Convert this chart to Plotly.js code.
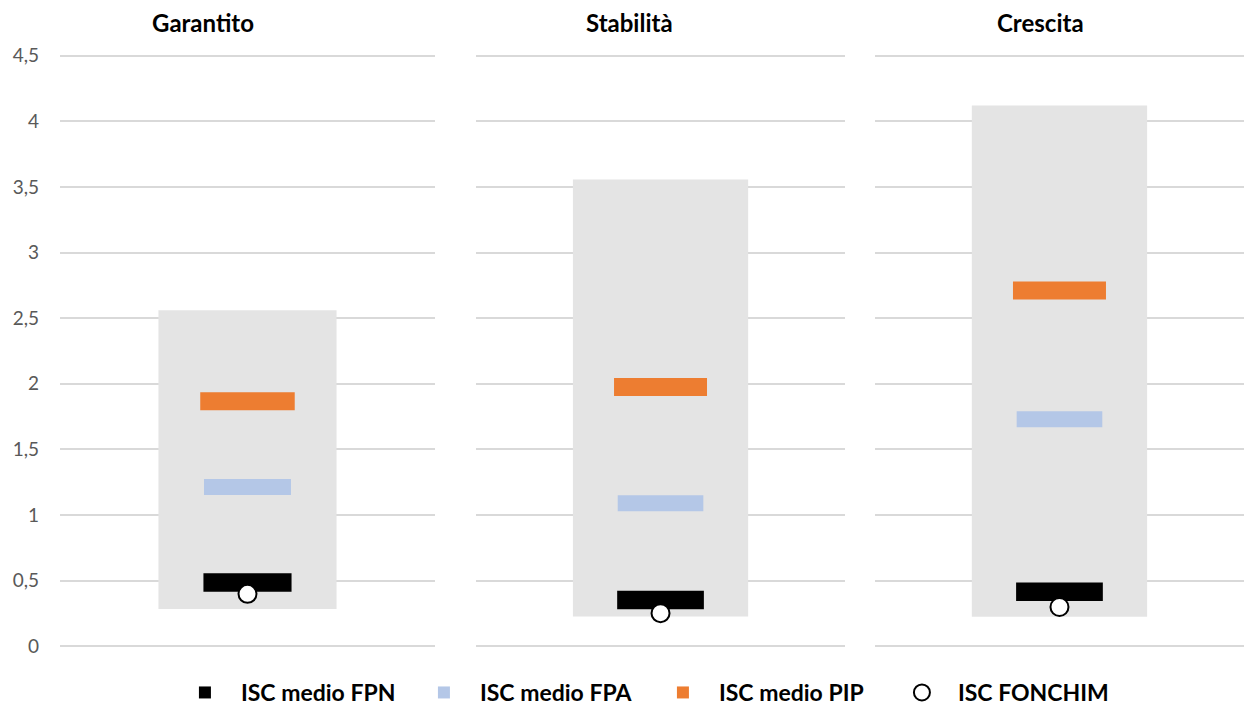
<!DOCTYPE html>
<html>
<head>
<meta charset="utf-8">
<script src="https://cdn.plot.ly/plotly-3.0.1.min.js"></script>
<style>html,body{margin:0;padding:0;background:#fff;}#chart{width:1244px;height:705px;}</style>
</head>
<body>
<div id="chart"></div>
<script>
// ---- data ----
const categories = ['Garantito', 'Stabilità', 'Crescita'];
const rangeMin = [0.285, 0.228, 0.225];
const rangeMax = [2.56, 3.556, 4.12];
const iscFPN = [0.487, 0.353, 0.416];
const iscFPA = [1.214, 1.09, 1.73];
const iscPIP = [1.867, 1.975, 2.71];
const iscFONCHIM = [0.40, 0.253, 0.30];
const seriesNames = ['ISC medio FPN', 'ISC medio FPA', 'ISC medio PIP', 'ISC FONCHIM'];
const yTicks = [0, 0.5, 1, 1.5, 2, 2.5, 3, 3.5, 4, 4.5];

// ---- styling ----
const FONT = 'Lato, "Liberation Sans", sans-serif';
const colors = {range: '#e4e4e4', fpn: '#000000', fpa: '#b4c7e7', pip: '#ed7d31'};
const domains = [[0, 0.3167], [0.3514, 0.6630], [0.6883, 1]];
const titleX = [0.1208, 0.4814, 0.8285];
const thick = {fpn: 0.14, fpa: 0.122, pip: 0.137};

const axSuffix = i => (i === 0 ? '' : String(i + 1));
const traces = [];

categories.forEach((cat, i) => {
  const xa = 'x' + axSuffix(i), ya = 'y' + axSuffix(i);
  traces.push({
    type: 'bar', x: [cat], y: [rangeMax[i] - rangeMin[i]], base: [rangeMin[i]],
    width: 0.475, marker: {color: colors.range}, xaxis: xa, yaxis: ya,
    showlegend: false, hoverinfo: 'skip'
  });
});

function barSeries(vals, key, name, w) {
  categories.forEach((cat, i) => {
    traces.push({
      type: 'bar', x: [cat], y: [thick[key]], base: [vals[i] - thick[key] / 2],
      width: w, marker: {color: colors[key]}, name: name, legendgroup: key,
      showlegend: i === 0, xaxis: 'x' + axSuffix(i), yaxis: 'y' + axSuffix(i),
      hovertext: [String(vals[i])], hoverinfo: 'name+text'
    });
  });
}
barSeries(iscFPN, 'fpn', seriesNames[0], 0.235);
barSeries(iscFPA, 'fpa', seriesNames[1], 0.232);
barSeries(iscPIP, 'pip', seriesNames[2], 0.252);

categories.forEach((cat, i) => {
  traces.push({
    type: 'scatter', mode: 'markers', x: [cat], y: [iscFONCHIM[i]],
    marker: {symbol: 'circle', size: 18, color: '#ffffff', line: {color: '#000000', width: 2}},
    name: seriesNames[3], legendgroup: 'fon', showlegend: i === 0,
    xaxis: 'x' + axSuffix(i), yaxis: 'y' + axSuffix(i)
  });
});

const layout = {
  width: 1244, height: 705,
  margin: {l: 60, r: 0, t: 53, b: 56, autoexpand: false},
  paper_bgcolor: '#ffffff', plot_bgcolor: '#ffffff',
  separators: ',.',
  barmode: 'overlay',
  font: {family: FONT, color: '#000000'},
  showlegend: true,
  legend: {
    orientation: 'h', x: 0.092, xanchor: 'left', y: -0.073, yanchor: 'middle',
    font: {family: FONT, size: 23, weight: 700, color: '#000000'},
    traceorder: 'normal', entrywidth: 162, itemwidth: 62
  },
  annotations: categories.map((c, i) => ({
    text: c, xref: 'paper', yref: 'paper', x: titleX[i], y: 1.052,
    xanchor: 'center', yanchor: 'middle', showarrow: false,
    font: {family: FONT, size: 24, weight: 700, color: '#000000'}
  }))
};

categories.forEach((cat, i) => {
  const s = axSuffix(i);
  layout['xaxis' + s] = {
    domain: domains[i], anchor: 'y' + s, type: 'category', range: [-0.5, 0.5],
    showticklabels: false, showgrid: false, zeroline: false, showline: false, ticks: '',
    fixedrange: true
  };
  layout['yaxis' + s] = {
    anchor: 'x' + s, range: [-0.02, 4.52], tickvals: yTicks,
    showticklabels: i === 0, showgrid: true, gridcolor: '#d9d9d9', gridwidth: 2,
    zeroline: false, showline: false, ticks: '',
    tickfont: {family: FONT, size: 19, color: '#595959'},
    ticklabelstandoff: 20, fixedrange: true
  };
  if (i > 0) layout['yaxis' + s].matches = 'y';
});

Plotly.newPlot('chart', traces, layout, {displayModeBar: false, staticPlot: true});
</script>
</body>
</html>
